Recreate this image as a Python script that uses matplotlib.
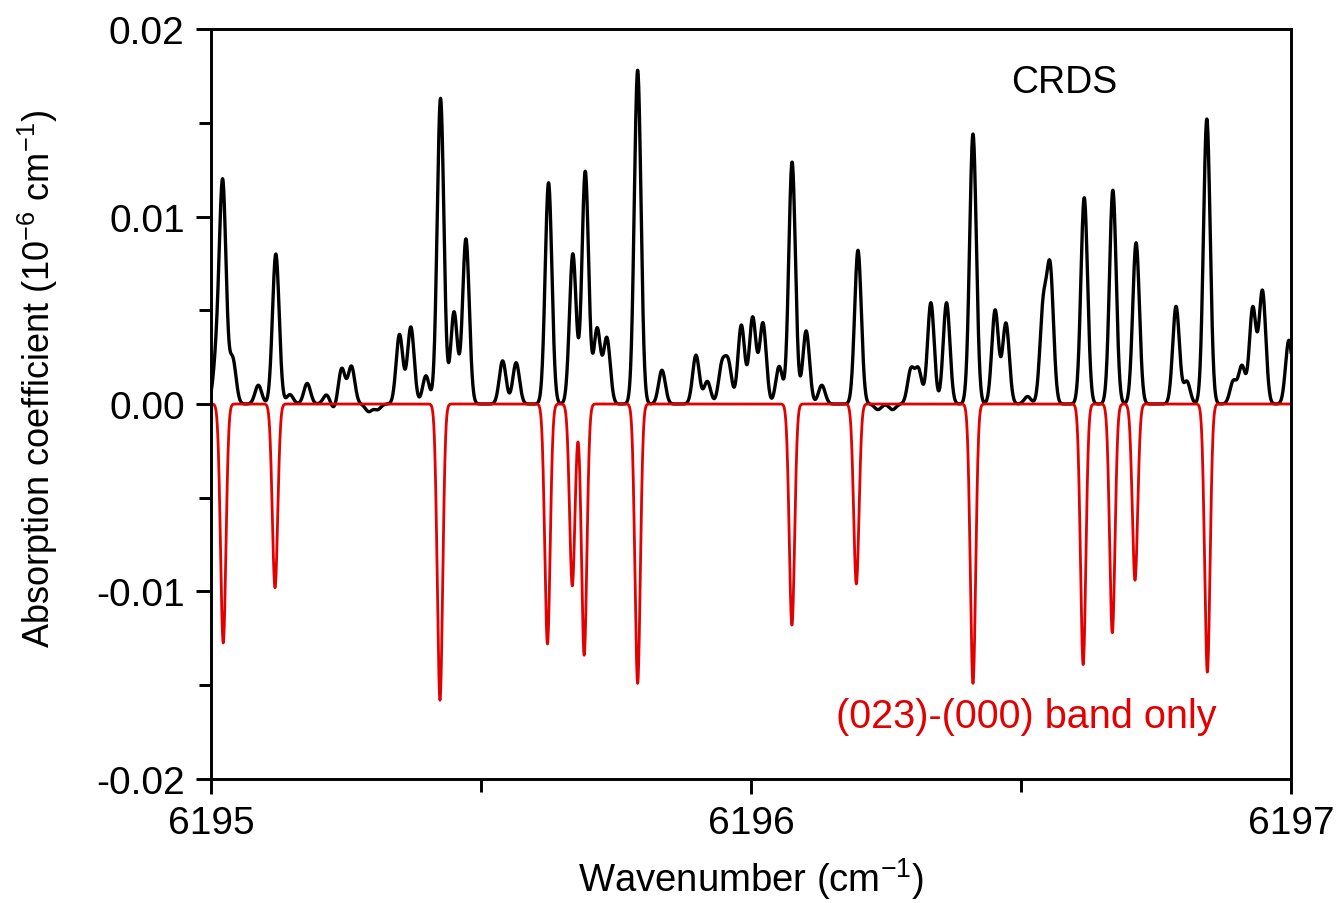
import numpy as np
import matplotlib
matplotlib.use("Agg")
import matplotlib.pyplot as plt
from matplotlib.ticker import MultipleLocator

plt.rcParams['font.family'] = ['Liberation Sans', 'DejaVu Sans']
plt.rcParams['mathtext.fontset'] = 'custom'
plt.rcParams['mathtext.rm'] = 'Liberation Sans'
plt.rcParams['mathtext.it'] = 'Liberation Sans'

# CRDS spectrum: line centres (cm-1) and peak heights
crds_centers = [6195.010, 6195.0217, 6195.040, 6195.0876, 6195.120, 6195.146, 6195.178,
                6195.214, 6195.242, 6195.260, 6195.349, 6195.370, 6195.398, 6195.425,
                6195.450, 6195.472, 6195.540, 6195.565, 6195.625, 6195.670, 6195.693,
                6195.715, 6195.733, 6195.790, 6195.835, 6195.898, 6195.919, 6195.946,
                6195.958, 6195.982, 6196.003, 6196.022, 6196.052, 6196.076, 6196.102,
                6196.131, 6196.198, 6196.296, 6196.310, 6196.333, 6196.362, 6196.411,
                6196.452, 6196.472, 6196.512, 6196.541, 6196.554, 6196.617, 6196.670,
                6196.713, 6196.787, 6196.807, 6196.844, 6196.893, 6196.909, 6196.929,
                6196.947, 6196.996,
                # small baseline dips
                6195.228, 6195.292, 6195.308, 6196.235, 6196.262]
crds_heights = [0.0022, 0.0116, 0.0024, 0.0010, 0.0080, 0.0005, 0.0011,
                0.0005, 0.0019, 0.0020, 0.0037, 0.0041, 0.0015, 0.0163,
                0.0049, 0.0088, 0.0023, 0.0022, 0.0118, 0.0080, 0.0124,
                0.0040, 0.0035, 0.0178, 0.0018, 0.0026, 0.0012, 0.0020,
                0.0021, 0.0042, 0.0046, 0.0043, 0.0020, 0.0129, 0.0039,
                0.0010, 0.0082, 0.0018, 0.0018, 0.0054, 0.0054, 0.0144,
                0.0050, 0.0043, 0.0004, 0.0050, 0.0070, 0.0110, 0.0114,
                0.0086, 0.0052, 0.0012, 0.0152, 0.0012, 0.0020, 0.0051,
                0.0060, 0.0034,
                -0.0003, -0.0004, -0.0003, -0.0003, -0.0003]
crds_width = 0.0062

# (023)-(000) band lines, drawn downwards
band_centers = [6195.0226, 6195.1185, 6195.424, 6195.623, 6195.669, 6195.691, 6195.790,
                6196.0757, 6196.195, 6196.411, 6196.615, 6196.669, 6196.711, 6196.845]
band_depths = [-0.01275, -0.0098, -0.0158, -0.0128, -0.0097, -0.0134, -0.0149,
               -0.0118, -0.0096, -0.0149, -0.0139, -0.0122, -0.0094, -0.0143]
band_width = 0.005

wn = np.linspace(6195.0, 6197.0, 4001)


def spectrum(centers, heights, sigma):
    y = np.zeros_like(wn)
    for c, h in zip(centers, heights):
        y += h * np.exp(-0.5 * ((wn - c) / sigma) ** 2)
    return y


crds = spectrum(crds_centers, crds_heights, crds_width)
band = spectrum(band_centers, band_depths, band_width)

fig = plt.figure(figsize=(13.39, 9.04), dpi=100)
ax = fig.add_axes([0.1576, 0.1372, 0.8066, 0.8296])

ax.plot(wn, crds, color='black', lw=2.4)
ax.plot(wn, band, color='#e30000', lw=2.0)

ax.set_xlim(6195, 6197)
ax.set_ylim(-0.02, 0.02)
ax.xaxis.set_major_locator(MultipleLocator(1))
ax.xaxis.set_minor_locator(MultipleLocator(0.5))
ax.yaxis.set_major_locator(MultipleLocator(0.01))
ax.yaxis.set_minor_locator(MultipleLocator(0.005))
ax.yaxis.set_major_formatter(plt.FormatStrFormatter('%.2f'))

for s in ax.spines.values():
    s.set_linewidth(2.1)
ax.tick_params(which='major', direction='out', length=11, width=2.1, labelsize=28)
ax.tick_params(which='minor', direction='out', length=9, width=2.1)
ax.tick_params(axis='x', pad=8)
ax.tick_params(axis='y', pad=8)

ax.set_xlabel(r'Wavenumber (cm$^{-1}$)', fontsize=27.5, labelpad=10)
ax.set_ylabel(r'Absorption coefficient (10$^{-6}$ cm$^{-1}$)', fontsize=26)
ax.yaxis.set_label_coords(-0.14, 0.535)

ax.text(6196.58, 0.0172, 'CRDS', fontsize=27, ha='center', va='center')
ax.text(6196.51, -0.01665, '(023)-(000) band only', fontsize=28.5, color='#e30000',
        ha='center', va='center')

fig.savefig('out.png', dpi=100)
